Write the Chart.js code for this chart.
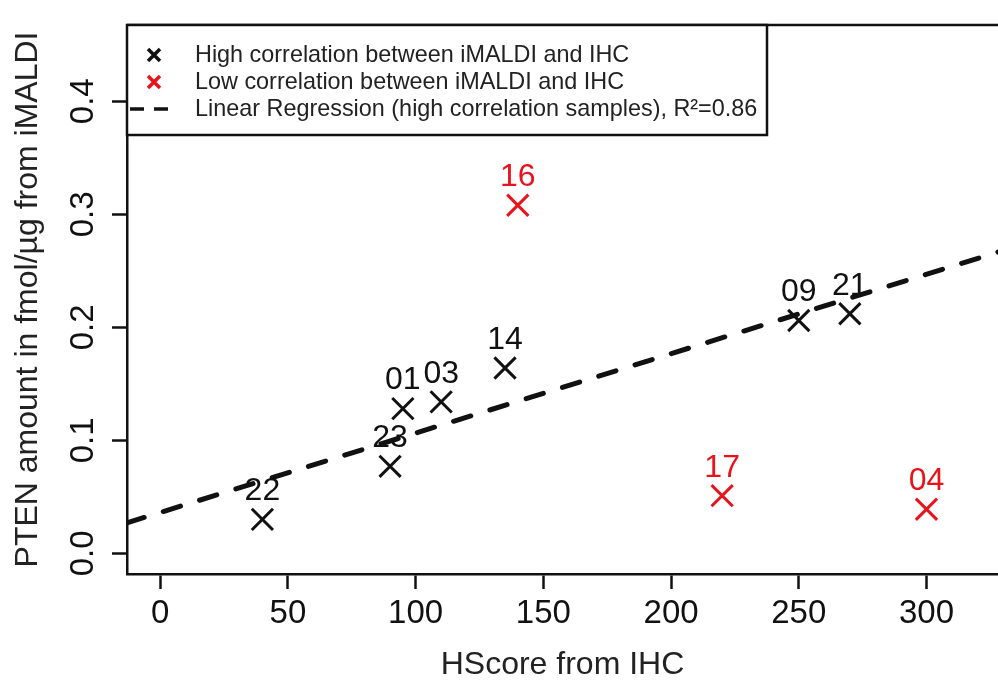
<!DOCTYPE html>
<html>
<head>
<meta charset="utf-8">
<script src="https://cdn.jsdelivr.net/npm/chart.js@4.4.1/dist/chart.umd.min.js"></script>
<style>
  html, body { margin: 0; padding: 0; background: #fff; overflow: hidden; }
  canvas { display: block; }
</style>
</head>
<body>
<canvas id="scatter" width="998" height="681"></canvas>
<script>
// Samples with high correlation between iMALDI and IHC
const hsHigh = [40, 90, 95, 110, 135, 250, 270];
const ptenHigh = [0.030, 0.077, 0.128, 0.134, 0.164, 0.206, 0.212];
const idsHigh = ["22", "23", "01", "03", "14", "09", "21"];

// Samples with low correlation
const hsLow = [140, 220, 300];
const ptenLow = [0.308, 0.051, 0.039];
const idsLow = ["16", "17", "04"];

// Regression line end points
const regX = [-13, 330];
const regY = [0.027, 0.268];

// Axis ticks
const xTicks = [0, 50, 100, 150, 200, 250, 300];
const yTicks = [0.0, 0.1, 0.2, 0.3, 0.4];

const legendLabels = [
    "High correlation between iMALDI and IHC",
    "Low correlation between iMALDI and IHC",
    "Linear Regression (high correlation samples), R\u00b2=0.86"
];

const RED = "#e8141c";
const FONT = "'Liberation Sans', Arial, Helvetica, sans-serif";

function toPoints(xs, ys) {
    return xs.map((x, i) => ({ x: x, y: ys[i] }));
}

// Draws the top of the frame, rotated y tick labels, point ids and the legend box
const decorations = {
    id: "decorations",
    afterDraw(chart) {
        const ctx = chart.ctx;
        const area = chart.chartArea;
        const ys = chart.scales.y;

        ctx.save();
        // frame top (the right side is cut off in the original)
        ctx.strokeStyle = "#111";
        ctx.lineWidth = 2.5;
        ctx.beginPath();
        ctx.moveTo(area.left, area.top);
        ctx.lineTo(chart.width, area.top);
        ctx.stroke();

        // y tick labels, rotated like R's default
        ctx.fillStyle = "#111";
        ctx.font = "33px " + FONT;
        ctx.textAlign = "center";
        ctx.textBaseline = "middle";
        yTicks.forEach(v => {
            ctx.save();
            ctx.translate(84, ys.getPixelForValue(v));
            ctx.rotate(-Math.PI / 2);
            ctx.fillText(v.toFixed(1), 0, 0);
            ctx.restore();
        });

        // sample ids above the markers
        ctx.font = "32px " + FONT;
        chart.data.datasets.forEach((ds, di) => {
            if (!ds.ids) return;
            const meta = chart.getDatasetMeta(di);
            ctx.fillStyle = ds.borderColor;
            meta.data.forEach((pt, i) => {
                ctx.fillText(ds.ids[i], pt.x, pt.y - 28);
            });
        });

        // legend box
        const lx = area.left, ly = area.top, lw = 640, lh = 110;
        ctx.fillStyle = "#fff";
        ctx.fillRect(lx, ly, lw, lh);
        ctx.strokeStyle = "#111";
        ctx.lineWidth = 2.5;
        ctx.strokeRect(lx, ly, lw, lh);

        const rows = [55, 82, 109];
        const symX = 154;
        ctx.lineWidth = 3.5;
        [ "#111", RED ].forEach((c, i) => {
            const cy = rows[i];
            ctx.strokeStyle = c;
            ctx.beginPath();
            ctx.moveTo(symX - 6, cy - 6); ctx.lineTo(symX + 6, cy + 6);
            ctx.moveTo(symX + 6, cy - 6); ctx.lineTo(symX - 6, cy + 6);
            ctx.stroke();
        });
        ctx.strokeStyle = "#111";
        ctx.lineWidth = 3.5;
        ctx.setLineDash([14, 10]);
        ctx.beginPath();
        ctx.moveTo(130, rows[2]);
        ctx.lineTo(176, rows[2]);
        ctx.stroke();
        ctx.setLineDash([]);

        ctx.fillStyle = "#222";
        ctx.font = "23.4px " + FONT;
        ctx.textAlign = "left";
        legendLabels.forEach((t, i) => ctx.fillText(t, 195, rows[i] + 1));
        ctx.restore();
    }
};

const chart = new Chart(document.getElementById("scatter").getContext("2d"), {
    type: "scatter",
    data: {
        datasets: [
            {
                label: legendLabels[2],
                type: "line",
                data: toPoints(regX, regY),
                borderColor: "#111",
                borderWidth: 5,
                borderDash: [18, 20],
                borderCapStyle: "round",
                pointRadius: 0,
                fill: false
            },
            {
                label: legendLabels[0],
                data: toPoints(hsHigh, ptenHigh),
                ids: idsHigh,
                pointStyle: "crossRot",
                pointRadius: 15,
                borderWidth: 3,
                borderColor: "#111",
                backgroundColor: "#111"
            },
            {
                label: legendLabels[1],
                data: toPoints(hsLow, ptenLow),
                ids: idsLow,
                pointStyle: "crossRot",
                pointRadius: 15,
                borderWidth: 3,
                borderColor: RED,
                backgroundColor: RED
            }
        ]
    },
    options: {
        responsive: false,
        animation: false,
        layout: { autoPadding: false, padding: { top: 25, right: 0, left: 0, bottom: 0 } },
        plugins: {
            legend: { display: false },
            tooltip: { enabled: false }
        },
        scales: {
            x: {
                type: "linear",
                min: -13,
                max: 328,
                afterBuildTicks: scale => { scale.ticks = xTicks.map(v => ({ value: v })); },
                afterFit: scale => {
                    scale.height = 107;
                    scale.paddingLeft = 0;
                    scale.paddingRight = 0;
                },
                grid: { drawOnChartArea: false, drawTicks: true, tickLength: 15, tickColor: "#111", tickWidth: 2.5 },
                border: { display: true, color: "#111", width: 2.5 },
                ticks: { color: "#111", font: { family: FONT, size: 33 }, padding: 5, maxRotation: 0 },
                title: {
                    display: true,
                    text: "HScore from IHC",
                    color: "#222",
                    font: { family: FONT, size: 32, lineHeight: 1 },
                    padding: { top: 0, bottom: 0 }
                }
            },
            y: {
                type: "linear",
                min: -0.0183,
                max: 0.4675,
                afterBuildTicks: scale => { scale.ticks = yTicks.map(v => ({ value: v })); },
                afterFit: scale => {
                    scale.width = 127;
                    scale.paddingTop = 0;
                    scale.paddingBottom = 0;
                },
                grid: { drawOnChartArea: false, drawTicks: true, tickLength: 15, tickColor: "#111", tickWidth: 2.5 },
                border: { display: true, color: "#111", width: 2.5 },
                ticks: { display: false },
                title: {
                    display: true,
                    text: "PTEN amount in fmol/\u00b5g from iMALDI",
                    color: "#222",
                    font: { family: FONT, size: 32, lineHeight: 1 },
                    padding: { top: 12, bottom: 0 }
                }
            }
        }
    },
    plugins: [decorations]
});
</script>
</body>
</html>
